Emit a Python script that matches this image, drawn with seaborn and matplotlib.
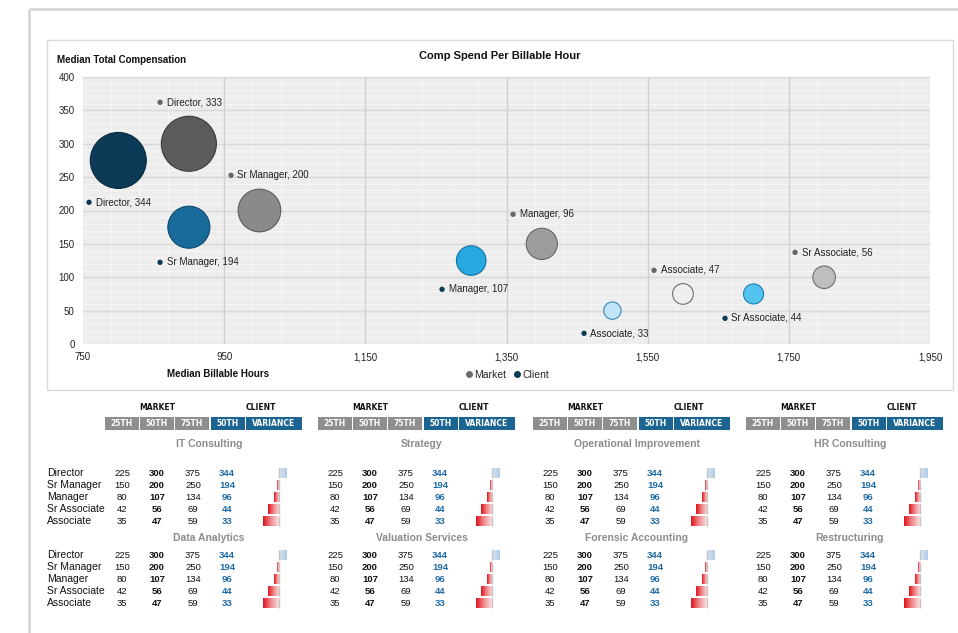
import numpy as np
import pandas as pd
import matplotlib
matplotlib.use("Agg")
import matplotlib.pyplot as plt
import seaborn as sns
from matplotlib.colors import LinearSegmentedColormap
from matplotlib.lines import Line2D
from matplotlib.patches import Rectangle
from matplotlib.ticker import FuncFormatter

# --- bubble chart data ---
roles = ["Director", "Sr Manager", "Manager", "Sr Associate", "Associate"]
market_hours = [900, 1000, 1400, 1800, 1600]
market_comp = [300, 200, 150, 100, 75]
market_spend = [333, 200, 107, 56, 47]      # bubble size
market_label = [333, 200, 96, 56, 47]       # label text value
client_hours = [800, 900, 1300, 1700, 1500]
client_comp = [275, 175, 125, 75, 50]
client_spend = [344, 194, 96, 44, 33]
client_label = [344, 194, 107, 44, 33]

market_fill = ["#5B5B5B", "#8A8A8A", "#9D9D9D", "#BEBEBE", "#EFEFEF"]
market_edge = ["#3E3E3E", "#5C5C5C", "#666666", "#6E6E6E", "#6E6E6E"]
client_fill = ["#0B3B56", "#186A9B", "#27A8E1", "#55C3EF", "#C0E5F7"]
client_edge = ["#072A3E", "#0E4B70", "#14709F", "#1B80B2", "#3B88B6"]

# --- table data (same figures for every service line) ---
service_lines = ["IT Consulting", "Strategy", "Operational Improvement", "HR Consulting",
                 "Data Analytics", "Valuation Services", "Forensic Accounting", "Restructuring"]
market_p25 = [225, 150, 80, 42, 35]
market_p50 = [300, 200, 107, 56, 47]
market_p75 = [375, 250, 134, 69, 59]
client_p50 = [344, 194, 96, 44, 33]
market_heads = ["25TH", "50TH", "75TH"]
client_heads = ["50TH", "VARIANCE"]

W, H = 958, 633


def fx(x):
    return x / W


def fy(y):
    return 1 - y / H


sns.set_theme(style="white")
plt.rcParams["font.family"] = ["Liberation Sans", "DejaVu Sans"]

fig = plt.figure(figsize=(W / 100, H / 100), dpi=100)

# background layer in pixel coordinates (frames + table text)
bg = fig.add_axes([0, 0, 1, 1], zorder=0)
bg.set_xlim(0, W)
bg.set_ylim(H, 0)
bg.axis("off")

bg.plot([29, W], [9, 9], color="#D4D4D4", lw=1.8, solid_capstyle="butt")
bg.plot([29, 29], [9, H], color="#D4D4D4", lw=1.8, solid_capstyle="butt")
bg.add_patch(Rectangle((47, 40), 906, 350, fill=False, ec="#D9D9D9", lw=1))

# --- bubble chart ---
df = pd.DataFrame({
    "group": ["Market"] * 5 + ["Client"] * 5,
    "role": roles * 2,
    "hours": market_hours + client_hours,
    "comp": market_comp + client_comp,
    "spend": market_spend + client_spend,
    "label": market_label + client_label,
})
df["key"] = df["group"] + " " + df["role"]
palette = dict(zip(df["key"], market_fill + client_fill))

k = 4.72  # points^2 per unit of spend
ax = fig.add_axes([fx(83), fy(344), (930 - 83) / W, (344 - 77) / H], zorder=2)
sns.scatterplot(data=df, x="hours", y="comp", hue="key", palette=palette,
                size="spend", sizes=(k * df["spend"].min(), k * df["spend"].max()),
                legend=False, linewidth=0.8, ax=ax, zorder=3)
ax.collections[0].set_edgecolors(market_edge + client_edge)

xmajor = np.arange(750, 1951, 200)
ymajor = np.arange(0, 401, 50)
ax.set_xlim(750, 1950)
ax.set_ylim(0, 400)
ax.set_facecolor("#EDEDED")
ax.set_xticks(xmajor)
ax.set_yticks(ymajor)
ax.set_xticks([v for v in range(750, 1951, 40) if (v - 750) % 200], minor=True)
ax.set_yticks([v for v in range(0, 401, 10) if v % 50], minor=True)
ax.xaxis.set_major_formatter(FuncFormatter(lambda v, p: f"{int(v):,}"))
ax.set_axisbelow(True)
ax.grid(which="minor", color="#F7F7F7", lw=0.6)
ax.grid(which="major", visible=False)
for v in ymajor[1:]:
    ax.axhline(v, color="#D8D8D8", lw=1.0, zorder=1)
for v in xmajor[1:-1]:
    ax.axvline(v, color="#D0D0D0", lw=1.0, zorder=1)
for s in ax.spines.values():
    s.set_visible(False)
ax.tick_params(which="both", length=0, labelsize=7, colors="#222222")
ax.tick_params(axis="y", pad=6)
ax.tick_params(axis="x", pad=6)
ax.set_xlabel("")
ax.set_ylabel("")

# data labels with coloured dot
for _, row in df.iterrows():
    r = np.sqrt(k * row["spend"]) / 2
    up = 1 if row["group"] == "Market" else -1
    dy = up * (r + 10)
    dx = -21
    dot_c = "#666666" if row["group"] == "Market" else "#0B3A55"
    ax.annotate("●", (row["hours"], row["comp"]), xytext=(dx, dy),
                textcoords="offset points", ha="center", va="center",
                fontsize=5, color=dot_c, family=["DejaVu Sans"])
    ax.annotate(f"{row['role']}, {row['label']}", (row["hours"], row["comp"]),
                xytext=(dx + 5, dy), textcoords="offset points", ha="left",
                va="center", fontsize=7, color="#222222")

bg.text(57, 60, "Median Total Compensation", fontsize=7, fontweight="bold",
        ha="left", va="center", color="#111111")
bg.text(500, 56, "Comp Spend Per Billable Hour", fontsize=8, fontweight="bold",
        ha="center", va="center", color="#111111")
bg.text(218, 374, "Median Billable Hours", fontsize=7, fontweight="bold",
        ha="center", va="center", color="#111111")

handles = [Line2D([], [], marker="o", ls="", color="#6B6B6B", markersize=4, label="Market"),
           Line2D([], [], marker="o", ls="", color="#0B3A55", markersize=4, label="Client")]
ax.legend(handles=handles, loc="center", bbox_to_anchor=(fx(507), fy(375)),
          bbox_transform=fig.transFigure, ncol=2, frameon=False, fontsize=7.5,
          handletextpad=0.05, columnspacing=0.7, handlelength=0.8, borderpad=0)

# --- tables ---
starts = [105, 318, 533, 746]
gray_box, blue_box = "#8E8E8E", "#1C6492"
num_blue = "#1E6AA6"
head_font = ["DejaVu Sans"]

market_boxes = [(0, 34), (35, 69), (70, 104)]
client_boxes = [(106, 140), (141, 197)]
for p in starts:
    bg.text(p + 52, 407, "MARKET", fontsize=5.5, fontweight="bold", ha="center",
            va="center", family=head_font, color="#111111")
    bg.text(p + 156, 407, "CLIENT", fontsize=5.5, fontweight="bold", ha="center",
            va="center", family=head_font, color="#111111")
    for (a, b), lab in zip(market_boxes, market_heads):
        bg.add_patch(Rectangle((p + a, 417), b - a, 13, color=gray_box, lw=0))
        bg.text(p + (a + b) / 2, 423.5, lab, fontsize=5.5, fontweight="bold", ha="center",
                va="center", family=head_font, color="white")
    for (a, b), lab in zip(client_boxes, client_heads):
        bg.add_patch(Rectangle((p + a, 417), b - a, 13, color=blue_box, lw=0))
        bg.text(p + (a + b) / 2, 423.5, lab, fontsize=5.5, fontweight="bold", ha="center",
                va="center", family=head_font, color="white")

variance_pct = [(c - m) / m * 100 for c, m in zip(client_p50, market_p50)]
neg_cmap = LinearSegmentedColormap.from_list("neg", ["#FBE2E2", "#F08A8C", "#E0141C"])
pos_cmap = LinearSegmentedColormap.from_list("pos", ["#D6E4F2", "#B3CBE5"])
grad = np.linspace(0, 1, 64).reshape(1, -1)
rows_idx = np.arange(len(roles))

blocks = [(444, 473, 467), (538, 555, 549)]
for b, (title_y, row0, vtop) in enumerate(blocks):
    for i, role in enumerate(roles):
        bg.text(47, row0 + 12 * i, role, fontsize=7.5, ha="left", va="center", color="#111111")
    for j, p in enumerate(starts):
        bg.text(p + 104, title_y, service_lines[b * 4 + j], fontsize=7.5, fontweight="bold",
                ha="center", va="center", color="#8C8C8C")
        for i in range(len(roles)):
            y = row0 + 12 * i
            bg.text(p + 17, y, str(market_p25[i]), fontsize=6.8, ha="center", va="center", color="#111111")
            bg.text(p + 52, y, str(market_p50[i]), fontsize=6.8, fontweight="bold", ha="center",
                    va="center", color="#111111")
            bg.text(p + 88, y, str(market_p75[i]), fontsize=6.8, ha="center", va="center", color="#111111")
            bg.text(p + 122, y, str(client_p50[i]), fontsize=6.8, fontweight="bold", ha="center",
                    va="center", color=num_blue)

        vax = fig.add_axes([fx(p + 140), fy(vtop + 60), 60 / W, 60 / H], zorder=2)
        sns.barplot(x=variance_pct, y=roles, orient="h", ax=vax, width=0.78,
                    color="white", linewidth=0)
        for patch, v in zip(vax.patches, variance_pct):
            patch.set_facecolor("none")
            x0, w = patch.get_x(), patch.get_width()
            y0, h = patch.get_y(), patch.get_height()
            im = vax.imshow(grad, extent=(x0, x0 + w, y0 + h, y0), aspect="auto",
                            cmap=neg_cmap if v < 0 else pos_cmap, interpolation="bilinear")
            im.set_clip_path(patch)
        vax.vlines(np.zeros(len(roles)), rows_idx - 0.39, rows_idx + 0.39, color="#C4C4C4", lw=1)
        vax.set_xlim(-64, 49)
        vax.set_ylim(4.5, -0.5)
        vax.axis("off")

fig.savefig("out.png", dpi=100)
